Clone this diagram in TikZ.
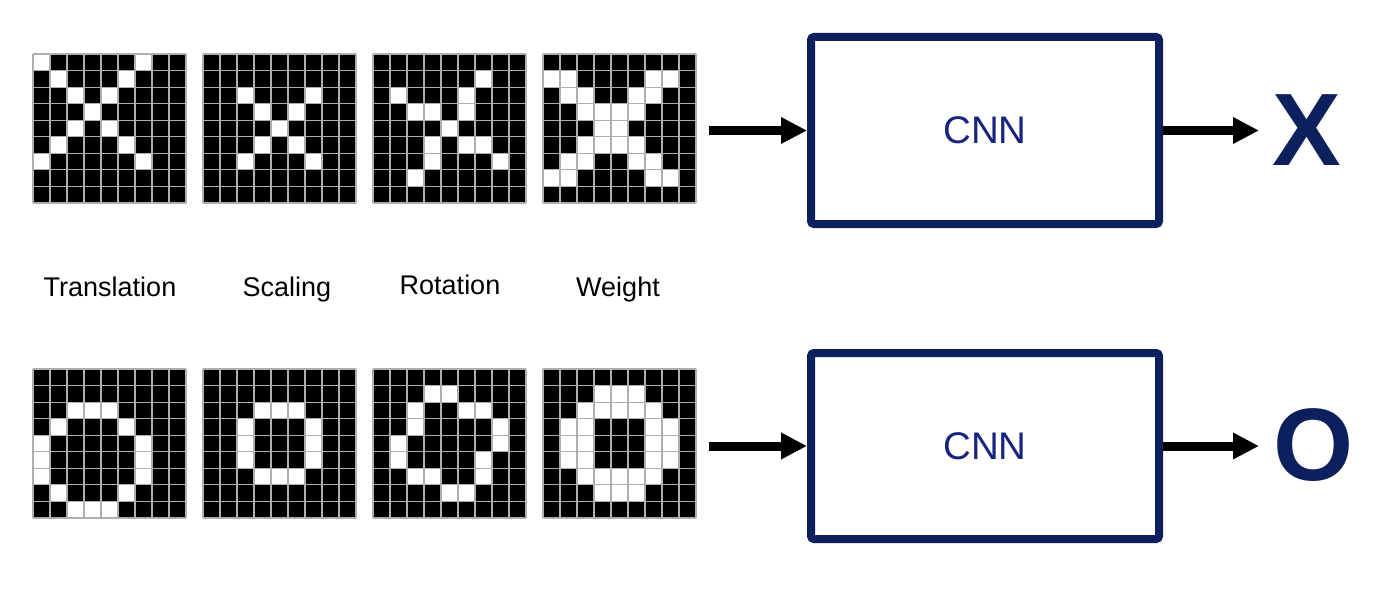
\documentclass[tikz,border=0pt]{standalone}
\usepackage{fontspec}
\setmainfont{Liberation Sans}
\usetikzlibrary{arrows.meta,calc}
\definecolor{navy}{RGB}{12,32,94}
\definecolor{cnntext}{RGB}{22,36,128}
\definecolor{gridc}{RGB}{175,175,175}
\newcommand\pixgrid[3]{%
  \begin{scope}[shift={(#1,#2)}]
    \fill[black] (0,0) rectangle (153,149);
    \foreach \r/\c in {#3} {\fill[white] (\c*17,\r*16.5556) rectangle ++(17,16.5556);}
    \foreach \i in {0,...,9} {\draw[gridline] (\i*17,0) -- (\i*17,149);
                              \draw[gridline] (0,\i*16.5556) -- (153,\i*16.5556);}
  \end{scope}}
\begin{document}
\begin{tikzpicture}[x=1pt,y=-1pt,
  gridline/.style={draw=gridc,line width=1.1pt},
  cnnbox/.style={draw=navy,line width=8pt,rounded corners=3pt,minimum width=348pt,minimum height=187pt,
     font=\fontsize{38.5}{42}\selectfont,text=cnntext,inner sep=0pt},
  arr/.style={line width=9pt,-{Triangle[length=26pt,width=25pt]}},
  lbl/.style={font=\fontsize{27}{30}\selectfont,anchor=base,inner sep=0pt},
  outl/.style={font=\fontsize{103}{110}\selectfont\bfseries,text=navy,inner sep=0pt}]
\useasboundingbox (0,0) rectangle (1378,604);
% X row
\pixgrid{33}{54}{0/0,0/6,1/1,1/5,2/2,2/4,3/3,4/2,4/4,5/1,5/5,6/0,6/6}
\pixgrid{203}{54}{2/2,2/6,3/3,3/5,4/4,5/3,5/5,6/2,6/6}
\pixgrid{373}{54}{1/6,2/1,2/5,3/2,3/3,3/5,4/4,5/3,5/5,5/6,6/3,6/7,7/2}
\pixgrid{543}{54}{1/0,1/1,1/6,1/7,2/1,2/2,2/5,2/6,3/2,3/3,3/4,3/5,4/3,4/4,5/2,5/3,5/4,5/5,6/1,6/2,6/5,6/6,7/0,7/1,7/6,7/7}
% O row
\pixgrid{33}{369}{2/2,2/3,2/4,3/1,3/5,4/0,4/6,5/0,5/6,6/0,6/6,7/1,7/5,8/2,8/3,8/4}
\pixgrid{203}{369}{2/3,2/4,2/5,3/2,3/6,4/2,4/6,5/2,5/6,6/3,6/4,6/5}
\pixgrid{373}{369}{1/3,1/4,2/2,2/5,2/6,3/2,3/7,4/1,4/7,5/1,5/6,6/2,6/3,6/6,7/4,7/5}
\pixgrid{543}{369}{1/3,1/4,1/5,2/2,2/3,2/4,2/5,2/6,3/1,3/2,3/6,3/7,4/1,4/2,4/6,4/7,5/1,5/2,5/6,5/7,6/2,6/3,6/4,6/5,6/6,7/3,7/4,7/5}
% labels
\node[lbl] (l1) at (110,296) {Translation};
\node[lbl] (l2) at (287,296) {Scaling};
\node[lbl] (l3) at (450,294) {Rotation};
\node[lbl] (l4) at (618,296) {Weight};
% CNN boxes
\node[cnnbox] (cnn1) at (985,130.5) {CNN};
\node[cnnbox,minimum height=186pt] (cnn2) at (985,446) {CNN};
\coordinate (in1) at (709,130.5);
\coordinate (in2) at (709,446);
\coordinate (out1) at (1259,130.5);
\coordinate (out2) at (1259,446);
\draw[arr] (in1) -- (cnn1.west);
\draw[arr] (in2) -- (cnn2.west);
\draw[arr] (cnn1.east) -- (out1);
\draw[arr] (cnn2.east) -- (out2);
\node[outl] (X) at (1307,130) {X};
\node[outl] (O) at (1314,445) {O};
\end{tikzpicture}
\end{document}
